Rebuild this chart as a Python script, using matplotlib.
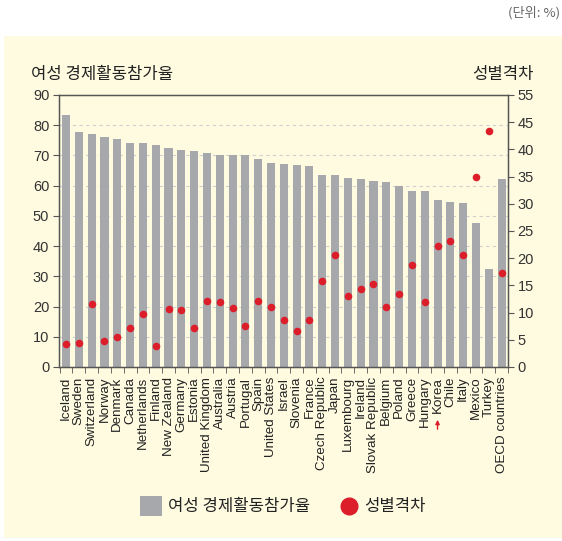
import matplotlib
matplotlib.use("Agg")
import matplotlib.pyplot as plt
from matplotlib.patches import Rectangle
from matplotlib.lines import Line2D
import matplotlib.transforms as mtransforms
import numpy as np

countries = ["Iceland", "Sweden", "Switzerland", "Norway", "Denmark", "Canada",
             "Netherlands", "Finland", "New Zealand", "Germany", "Estonia",
             "United Kingdom", "Australia", "Austria", "Portugal", "Spain",
             "United States", "Israel", "Slovenia", "France", "Czech Republic",
             "Japan", "Luxembourg", "Ireland", "Slovak Republic", "Belgium",
             "Poland", "Greece", "Hungary", "Korea", "Chile", "Italy", "Mexico",
             "Turkey", "OECD countries"]
participation = [83.3, 77.7, 77.0, 76.0, 75.6, 74.0, 74.0, 73.4, 72.4, 71.7, 71.4,
                 70.7, 70.0, 70.0, 70.0, 68.7, 67.4, 67.1, 66.7, 66.4, 63.4,
                 63.4, 62.7, 62.1, 61.4, 61.1, 59.8, 58.1, 58.1, 55.2, 54.5, 54.1,
                 47.5, 32.3, 62.1]
gender_gap = [4.2, 4.5, 11.5, 4.7, 5.5, 7.2, 9.8, 3.8, 10.7, 10.5, 7.2,
              12.1, 12.0, 10.8, 7.5, 12.2, 11.0, 8.6, 6.6, 8.6, 15.8,
              20.6, 13.0, 14.4, 15.3, 11.0, 13.4, 18.8, 12.0, 22.3, 23.2, 20.6,
              35.0, 43.3, 17.2]
left_ticks = [0, 10, 20, 30, 40, 50, 60, 70, 80, 90]
right_ticks = [0, 5, 10, 15, 20, 25, 30, 35, 40, 45, 50]
right_labels = ["0", "5", "10", "15", "20", "25", "30", "35", "40", "45", "55"]

KR = ["Noto Sans CJK KR", "DejaVu Sans"]
LAT = ["Liberation Sans", "DejaVu Sans"]
BAR = "#A7A8AC"
RED = "#DC1E2A"
BG = "#FEFBE0"
AX = "#555555"

fig = plt.figure(figsize=(5.62, 5.41), dpi=100)
fig.patch.set_facecolor("white")
fig.patches.append(Rectangle((4 / 562, 1 - 538 / 541), 1 - 4 / 562, (538 - 36) / 541,
                             transform=fig.transFigure, facecolor=BG, edgecolor="none", zorder=-10))

ax = fig.add_axes([59 / 562, 1 - 367 / 541, (508 - 59) / 562, (367 - 95) / 541])
ax.set_facecolor("none")
x = np.arange(len(countries))
ax.bar(x, participation, width=0.63, color=BAR, zorder=2)
ax.set_ylim(0, 90)
ax.set_xlim(-0.55, len(countries) - 0.53)
ax.set_yticks(left_ticks)
ax.set_yticklabels([str(t) for t in left_ticks], family=LAT, fontsize=10.5, color="#333333")
for t in left_ticks[1:-1]:
    ax.axhline(t, color="#CFCFCF", linestyle=(0, (3, 3)), linewidth=0.8, zorder=1)
ax.set_xticks(x)
ax.set_xticklabels(countries, rotation=90, family=LAT, fontsize=9.6, color="#222222")
ax.set_xticks(np.arange(len(countries) + 1) - 0.5, minor=True)
ax.tick_params(axis="x", which="major", length=0, pad=7)
ax.tick_params(axis="x", which="minor", length=4, color=AX, direction="out")
ax.tick_params(axis="y", length=4, color=AX, pad=3)
for s in ["left", "bottom", "top", "right"]:
    ax.spines[s].set_color(AX)
    ax.spines[s].set_linewidth(1.0)

ax2 = ax.twinx()
ax2.scatter(x, gender_gap, s=30, color=RED, zorder=3, linewidths=0)
ax2.set_ylim(0, 50)
ax2.set_yticks(right_ticks)
ax2.set_yticklabels(right_labels, family=LAT, fontsize=10.5, color="#333333")
ax2.tick_params(axis="y", length=4, color=AX, pad=3)
for s in ["left", "bottom", "top", "right"]:
    ax2.spines[s].set_color(AX)

# Korea arrow
trans = mtransforms.blended_transform_factory(ax.transData, fig.transFigure)
ki = countries.index("Korea")
ax.annotate("", xy=(ki, 1 - 417 / 541), xytext=(ki, 1 - 432 / 541),
            xycoords=trans, textcoords=trans,
            arrowprops=dict(arrowstyle="-|>", color=RED, lw=1.0, mutation_scale=6),
            annotation_clip=False)

fig.text(31 / 562, 1 - 75 / 541, "여성 경제활동참가율", family=KR, fontsize=12,
         color="#222222", ha="left", va="center")
fig.text(534 / 562, 1 - 75 / 541, "성별격차", family=KR, fontsize=12,
         color="#222222", ha="right", va="center")
fig.text(560 / 562, 1 - 13 / 541, "(단위: %)", family=KR, fontsize=9.5,
         color="#666666", ha="right", va="center")

# Legend
fig.patches.append(Rectangle((140 / 562, 1 - 516 / 541), 22 / 562, 20 / 541,
                             transform=fig.transFigure, facecolor=BAR, edgecolor="none"))
fig.text(168 / 562, 1 - 506 / 541, "여성 경제활동참가율", family=KR, fontsize=12,
         color="#222222", ha="left", va="center")
fig.lines.append(Line2D([349 / 562], [1 - 506 / 541], marker="o", markersize=12,
                        color=RED, linestyle="none", transform=fig.transFigure))
fig.text(364 / 562, 1 - 506 / 541, "성별격차", family=KR, fontsize=12,
         color="#222222", ha="left", va="center")

fig.savefig("out.png", dpi=100, facecolor="white")
